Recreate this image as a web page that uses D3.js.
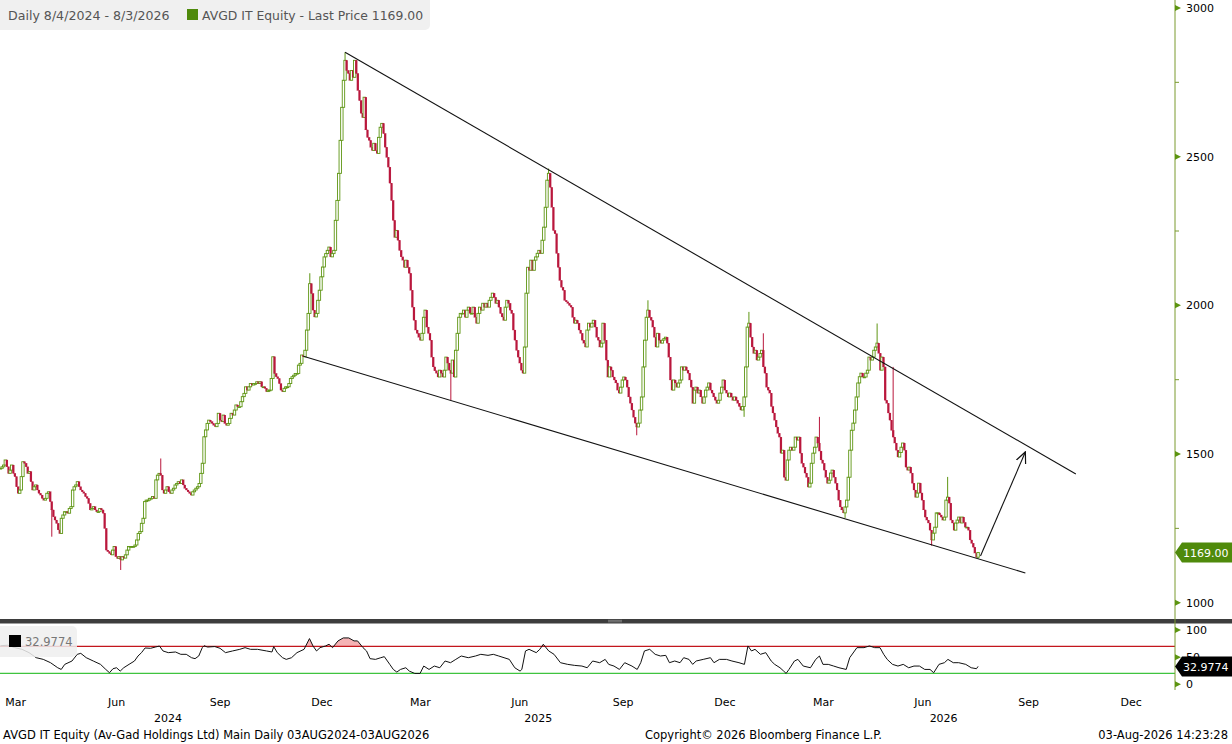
<!DOCTYPE html>
<html>
<head>
<meta charset="utf-8">
<script src="https://d3js.org/d3.v7.min.js"></script>
<style>
  body { margin: 0; background: #fff; }
  svg text { font-family: 'DejaVu Sans', sans-serif; }
</style>
</head>
<body>
<svg width="1232" height="744"></svg>
<script>
// daily closes, 1 Mar 2024 .. 3 Aug 2026 (one per trading day)
var closes = [
  1452,1457,1463,1480,1457,1435,1446,1463,1435,1424,1390,1368,1379,1424,1474,1469,1457,1435,1441,1407,
  1379,1390,1396,1379,1368,1362,1351,1345,1351,1368,1373,1340,1312,1289,1278,1267,1245,1233,1284,1295,
  1306,1306,1301,1317,1323,1379,1390,1396,1407,1390,1379,1373,1368,1357,1351,1334,1312,1317,1323,1312,
  1306,1306,1317,1312,1301,1250,1177,1172,1166,1161,1177,1189,1155,1149,1155,1144,1155,1150,1161,1177,
  1189,1189,1189,1189,1194,1211,1233,1239,1267,1284,1340,1345,1345,1351,1351,1357,1351,1413,1429,1435,
  1429,1379,1368,1379,1390,1373,1368,
  1379,1385,1396,1401,1407,1401,1413,1396,1385,1379,1373,1368,1362,1373,1379,1385,1390,1401,1435,1469,
  1558,1581,1603,1614,1609,1603,1597,1592,1603,1637,1614,1609,1631,1603,1597,1603,1620,1637,1631,1648,
  1665,1659,1659,1676,1693,1704,1726,1715,1726,1737,1732,1737,1737,1743,1737,1743,1726,1726,1721,1710,
  1715,1715,1754,1827,1771,1760,1754,1737,1715,1710,1721,1726,1726,1737,1754,1760,1765,1771,1771,1799,
  1805,1833,1827,1849,1917,1973,2073,2040,1984,1961,1973,2017,2051,2096,2129,2163,2174,2185,2196,2163,
  2174,2185,
  2286,2353,2444,2555,2666,2757,2824,2790,2780,2757,2790,2767,2824,2780,2723,2689,2646,2632,2700,2590,
  2565,2555,2532,2521,2545,2521,2511,2565,2599,2612,2578,2532,2498,2465,2411,2353,2286,2229,2252,2219,
  2185,2163,2152,2128,2152,2128,2108,2051,1994,1950,1917,1906,1893,1883,1906,1960,1984,1927,1906,1883,
  1826,1793,1780,1772,1759,1782,1772,1759,1782,1826,1806,1782,1772,1816,1759,1849,1906,1960,1973,1973,
  1984,1960,1984,1994,1973,1973,1994,1960,1940,1973,1994,1984,2007,1994,2007,1994,2017,2027,2041,2027,
  2007,2017,1994,1973,1961,1950,1994,2017,2007,1984,1973,1917,1883,1849,1826,1806,1782,1772,1860,2041,
  2128,2118,2152,2118,2152,2163,2175,2185,2175,2219,2263,2330,2421,2444,2397,2330,2252,2241,2175,2128,
  2084,2061,
  2051,2017,2012,2007,2000,1994,1960,1940,1950,1940,1917,1906,1883,1873,1860,1917,1940,1927,1940,1950,
  1927,1893,1883,1860,1873,1940,1883,1816,1759,1793,1782,1759,1749,1739,1715,1705,1725,1749,1759,1749,
  1725,1692,1671,1648,1624,1604,1591,1604,1648,1692,1793,1883,1960,1984,1960,1950,1927,1893,1860,1906,
  1883,1873,1883,1888,1893,1873,1826,1749,1715,1749,1739,1725,1739,1749,1793,1782,1793,1782,1772,1749,
  1725,1671,1715,1725,1705,1715,1692,1671,1692,1715,1725,1739,1715,1705,1692,1681,1671,1681,1705,1725,
  1749,1715,1705,1692,1705,1692,1681,1692,1681,1671,1660,1648,1660,1692,1793,1927,1940,1893,1860,1839,
  1849,1816,1826,1838,1849,1793,1772,1725,1715,1705,1660,1638,1614,1591,1570,1557,
  1503,1513,1422,1412,1480,1513,1523,1513,1523,1557,1547,1557,1503,1469,1456,1436,1422,1389,1402,1469,
  1503,1523,1557,1537,1510,1480,1469,1446,1422,1402,1412,1436,1446,1422,1402,1379,1345,1322,1312,1302,
  1322,1345,1422,1513,1580,1604,1648,1692,1739,1760,1772,1759,1759,1772,1782,1826,1816,1826,1849,1860,
  1873,1839,1782,1826,1793,1681,1671,1638,1614,1580,1557,1537,1513,1490,1505,1523,1537,1513,1456,1446,
  1456,1436,1402,1379,1355,1369,1402,1369,1345,1312,1288,1278,1268,1244,1211,1234,1254,1302,1302,1295,
  1288,1278,1288,1345,1355,1335,1278,1268,1244,1268,1278,1288,1268,1288,1270,1254,1254,1244,1211,1200,
  1187,1167,1153,1169
];
// visible long wicks [bar, price]
var wickHighs = [[100,1485],[193,2108],[215,2851],[342,2460],[404,2017],[467,1978],[476,1906],[511,1625],[547,1939],[557,1793],[591,1423]];
var wickLows = [[32,1222],[75,1110],[281,1681],[397,1563],[464,1625],[527,1285],[581,1192],[610,1148]];

// RSI [bar, value]
var rsiPoints = [
  [0,71],[4.5,72],[8.9,67.5],[13.4,64.4],[17.8,58.3],[22.3,49],[26.7,45.9],[31.2,39.8],[35.7,30.5],[37.9,27.4],
  [40.1,36.7],[44.6,42.9],[47.9,55.2],[50.1,57],[53.5,49],[57.9,42.9],[62.4,36.7],[65.7,27.4],[68,21.3],[70.2,28.7],
  [72.4,30.5],[74.7,24.3],[76.9,30.5],[80.2,36.7],[83.6,42.9],[85.8,52.1],[88,58.3],[90.2,66.9],[93.6,66.3],[96.9,68.8],
  [99.2,70.5],[101.4,61.4],[104.7,58.3],[109.2,59.5],[112.5,55.2],[115.9,55.2],[119.2,49],[121.4,47.2],[123.7,52.1],[125.9,67.5],
  [127,71],[129.2,68.6],[133.7,69.5],[137,66.3],[140.4,58.3],[144.8,61.4],[149.3,64.4],[152.6,67.5],[156,64.4],[160.4,64.4],
  [166,61.4],[169.4,59.5],[170.5,69.4],[172.7,58.3],[176,49],[178.3,45.9],[181.6,49],[185,58.3],[189.4,64.4],[192.8,84.2],
  [195,70.6],[197.2,61.4],[199.4,67.5],[202.8,70.6],[205,73.7],[207.2,67.5],[210.6,79.9],[213.9,85.4],[217.3,85.4],[220.6,79.9],
  [222.8,79.9],[226.2,67.5],[228.4,61.4],[230.6,47.2],[234,45.9],[237.3,49],[239.5,50.9],[242.9,36.7],[245.1,27.4],[247.3,22.5],
  [249.6,27.4],[252.9,30.5],[255.1,24.3],[258.5,20],[261.8,20],[264.1,33.6],[267.4,27.4],[270.7,33.6],[274.1,30.5],[277.4,42.9],
  [280.8,39.8],[284.1,45.9],[287.5,52.1],[291.9,49],[296.4,52.1],[299.7,55.2],[304.2,53.3],[307.5,55.2],[310.9,52.1],[314.2,49],
  [317.5,45.9],[320.9,30.5],[324.2,24.3],[325.3,27.4],[327.6,61.4],[329.8,64.4],[334.3,58.3],[336.5,64.4],[338.7,73.7],[342.1,61.4],
  [345.4,55.2],[349.4,39.8],[353.9,36.7],[358.3,34.8],[362.8,33.6],[366.1,30.5],[369.5,42.9],[373.9,39.8],[377.3,45.9],[379.5,36.7],
  [382.8,33.6],[386.2,27.4],[389.5,39.8],[394,33.6],[397.3,27.4],[399.5,39.8],[401.8,61.4],[405.1,64.4],[408.5,55.2],[411.8,52.1],
  [415.1,53.3],[417.4,39.8],[420.7,42.9],[424,39.8],[426.3,49],[429.6,45.9],[431.9,36.7],[434.1,42.9],[438.5,45.9],[443,49],
  [445.2,39.8],[448.6,45.9],[453,45.9],[456.4,42.9],[460.8,39.8],[464.2,36.7],[466.4,70.6],[468.6,61.4],[470.8,64.4],[474.2,55.2],
  [477.5,58.3],[480.9,42.9],[483.1,36.7],[486.4,30.5],[488.7,24.3],[490.2,20],[492,27.4],[495.4,42.9],[497.6,45.9],[500.9,33.6],
  [505.4,30.5],[508.7,45.9],[511,52.1],[513.2,36.7],[516.5,36.7],[519.9,33.6],[523.2,30.5],[527.7,27.4],[529.9,49],[534.4,67.5],
  [538.8,67.5],[542.2,70.6],[545.5,67.5],[548.8,67.5],[551.1,55.2],[553.3,45.9],[556.6,36.7],[560,33.6],[563.3,36.7],[566.7,30.5],
  [570,33.6],[573.4,33.6],[576.7,27.4],[580,27.4],[582.3,21.3],[585.6,36.7],[589,39.8],[591.2,45.9],[594.5,39.8],[597.9,39.8],
  [602.3,36.7],[605.7,30.5],[609,28.7],[610,32.98]
];

var holidays = ["2024-03-29","2024-04-01","2024-05-01","2024-08-15","2024-12-24","2024-12-25","2024-12-26","2024-12-31",
  "2025-01-01","2025-04-18","2025-04-21","2025-05-01","2025-08-15","2025-12-24","2025-12-25","2025-12-26","2025-12-31",
  "2026-01-01","2026-04-03","2026-04-06","2026-05-01","2026-12-24","2026-12-25","2026-12-31"];
var priceTicks = [1000, 1500, 2000, 2500, 3000];
var priceMinor = [1250, 1750, 2250, 2750];
var rsiTicks = [100, 50, 0];
var rsiHigh = 70, rsiLow = 20;
var showMonths = ["Mar", "Jun", "Sep", "Dec"];
var upperTrend = [[215, 2851], [671, 1433]];
var lowerTrend = [[189, 1829], [639.5, 1100]];
var arrowPts = [[611.5, 1157], [639.5, 1507]];
var lastPrice = 1169.00, lastRsi = 32.9774;

var upCol = "#5f9614", downCol = "#b9173c";

// trading calendar
var fmt = d3.timeFormat("%Y-%m-%d");
var days = [];
for (var d = new Date(2024, 2, 1); d <= new Date(2026, 11, 31); d.setDate(d.getDate() + 1)) {
  var wd = d.getDay();
  if (wd > 0 && wd < 6 && holidays.indexOf(fmt(d)) < 0) days.push(new Date(d));
}
var lastDay = days.findIndex(function(e) { return fmt(e) == "2026-08-03"; });
var off = lastDay - (closes.length - 1);

var svg = d3.select("svg");
var x = d3.scaleLinear().domain([0, 731]).range([0.5, 1172]);
var y = d3.scaleLinear().domain([1000, 3000]).range([602.7, 8]);
var yr = d3.scaleLinear().domain([0, 100]).range([684.3, 630]);
function bx(i) { return x(off + i); }

// header box
svg.append("rect").attr("x", -5).attr("y", -5).attr("width", 435).attr("height", 35).attr("rx", 5).attr("fill", "#f0f0f0");
svg.append("text").attr("x", 8).attr("y", 20).attr("font-size", 12.6).attr("fill", "#555").text("Daily 8/4/2024 - 8/3/2026");
svg.append("rect").attr("x", 187).attr("y", 9).attr("width", 11).attr("height", 11).attr("fill", "#4f8a0b");
svg.append("text").attr("x", 202).attr("y", 20).attr("font-size", 12.4).attr("fill", "#555").text("AVGD IT Equity - Last Price " + lastPrice.toFixed(2));

// candles
var bars = closes.map(function(c, i) {
  var o = i ? closes[i - 1] : c;
  return { i: i, o: o, c: c, h: Math.max(o, c), l: Math.min(o, c) };
});
wickHighs.forEach(function(w) { bars[w[0]].h = Math.max(bars[w[0]].h, w[1]); });
wickLows.forEach(function(w) { bars[w[0]].l = Math.min(bars[w[0]].l, w[1]); });

var plot = svg.append("g");
var bw = 2.4;
bars.forEach(function(b) {
  var up = b.c >= b.o;
  var col = up ? upCol : downCol;
  plot.append("line").attr("x1", bx(b.i)).attr("x2", bx(b.i))
    .attr("y1", y(b.h)).attr("y2", y(b.l)).attr("stroke", col).attr("stroke-width", 1);
  var top = y(Math.max(b.o, b.c)), bot = y(Math.min(b.o, b.c));
  plot.append("rect").attr("x", bx(b.i) - (up ? bw : 2) / 2).attr("y", top)
    .attr("width", up ? bw : 2).attr("height", Math.max(0.8, bot - top))
    .attr("fill", up ? "#fff" : col).attr("stroke", col).attr("stroke-width", up ? 0.9 : 0.2);
});

// trendlines and arrow
var tl = d3.line().x(function(p) { return bx(p[0]); }).y(function(p) { return y(p[1]); });
svg.append("defs").append("marker").attr("id", "ah").attr("viewBox", "0 0 12 12")
  .attr("refX", 11).attr("refY", 6).attr("markerWidth", 12).attr("markerHeight", 12)
  .attr("markerUnits", "userSpaceOnUse").attr("orient", "auto")
  .append("path").attr("d", "M0,1 L11,6 L0,11").attr("fill", "none").attr("stroke", "#111").attr("stroke-width", 1.2);
[upperTrend, lowerTrend].forEach(function(t) {
  svg.append("path").attr("d", tl(t)).attr("stroke", "#111").attr("stroke-width", 1.1).attr("fill", "none");
});
svg.append("path").attr("d", tl(arrowPts)).attr("stroke", "#111").attr("stroke-width", 1.1)
  .attr("fill", "none").attr("marker-end", "url(#ah)");

// panel separator
svg.append("rect").attr("x", 0).attr("y", 619).attr("width", 1232).attr("height", 4.5).attr("fill", "#3d3d3d");
[620.3, 621.8].forEach(function(v) {
  svg.append("line").attr("x1", 608).attr("x2", 622).attr("y1", v).attr("y2", v).attr("stroke", "#9a9a9a").attr("stroke-width", 0.7);
});

// RSI panel
svg.append("clipPath").attr("id", "ob").append("rect").attr("x", 0).attr("y", 600).attr("width", 1172).attr("height", yr(rsiHigh) - 600);
var rArea = d3.area().x(function(p) { return bx(p[0]); }).y0(yr(rsiHigh)).y1(function(p) { return yr(p[1]); });
svg.append("path").attr("d", rArea(rsiPoints)).attr("fill", "#f5b3b5").attr("clip-path", "url(#ob)");
svg.append("line").attr("x1", 0).attr("x2", 1175).attr("y1", yr(rsiHigh)).attr("y2", yr(rsiHigh)).attr("stroke", "#c3161c").attr("stroke-width", 1.2);
svg.append("line").attr("x1", 0).attr("x2", 1175).attr("y1", yr(rsiLow)).attr("y2", yr(rsiLow)).attr("stroke", "#3fc43f").attr("stroke-width", 1.2);
var rLine = d3.line().x(function(p) { return bx(p[0]); }).y(function(p) { return yr(p[1]); });
svg.append("path").attr("d", rLine(rsiPoints)).attr("fill", "none").attr("stroke", "#111").attr("stroke-width", 1);

// RSI legend box
svg.append("rect").attr("x", -5).attr("y", 626).attr("width", 82).attr("height", 31).attr("rx", 5).attr("fill", "#efefef").attr("opacity", 0.85);
svg.append("rect").attr("x", 9).attr("y", 635).attr("width", 12).attr("height", 12).attr("fill", "#000");
svg.append("text").attr("x", 25).attr("y", 646).attr("font-size", 11.5).attr("fill", "#777").text(lastRsi.toFixed(4));

// right axis
var axisX = 1175;
svg.append("line").attr("x1", axisX).attr("x2", axisX).attr("y1", 0).attr("y2", 690).attr("stroke", "#7a9a2e").attr("stroke-width", 1);
function tri(g, yy) {
  g.append("path").attr("d", "M" + axisX + "," + (yy - 3) + " L" + (axisX + 6) + "," + yy + " L" + axisX + "," + (yy + 3) + "Z").attr("fill", "#5c9410");
}
priceTicks.forEach(function(t) {
  tri(svg, y(t));
  svg.append("text").attr("x", 1186).attr("y", y(t) + 4).attr("font-size", 11).attr("fill", "#000").text(t);
});
priceMinor.forEach(function(t) {
  svg.append("line").attr("x1", axisX).attr("x2", axisX + 4).attr("y1", y(t)).attr("y2", y(t)).attr("stroke", "#7a9a2e");
});
rsiTicks.forEach(function(t) {
  tri(svg, yr(t));
  svg.append("text").attr("x", 1186).attr("y", yr(t) + 4).attr("font-size", 11).attr("fill", "#000").text(t);
});

// last value tags (drawn over the axis labels, as in the terminal)
function tag(yy, fill, label) {
  svg.append("path").attr("d", "M1175," + yy + " L1182," + (yy - 10) + " L1232," + (yy - 10) + " L1232," + (yy + 10) + " L1182," + (yy + 10) + "Z").attr("fill", fill);
  svg.append("text").attr("x", 1183).attr("y", yy + 4.5).attr("font-size", 11).attr("fill", "#fff").text(label);
}
tag(y(lastPrice), "#4f8a0b", lastPrice.toFixed(2));
tag(yr(lastRsi), "#000", lastRsi.toFixed(4));

// bottom time axis
var idx = days.map(function(dd, i) { return { d: dd, i: i }; });
var monthFmt = d3.timeFormat("%b");
d3.groups(idx, function(e) { return d3.timeFormat("%Y-%m")(e.d); }).forEach(function(g) {
  var name = monthFmt(g[1][0].d);
  if (showMonths.indexOf(name) < 0) return;
  var xm = x(d3.mean(g[1], function(e) { return e.i; }));
  if (xm < 0 || xm > 1172) return;
  svg.append("text").attr("x", xm).attr("y", 706).attr("text-anchor", "middle").attr("font-size", 11).attr("fill", "#000").text(name);
});
d3.groups(idx, function(e) { return e.d.getFullYear(); }).forEach(function(g) {
  var xm = x(d3.mean(g[1], function(e) { return e.i; }));
  svg.append("text").attr("x", xm).attr("y", 722).attr("text-anchor", "middle").attr("font-size", 11).attr("fill", "#000").text(g[0]);
});

// footer
svg.append("text").attr("x", 3).attr("y", 739).attr("font-size", 11.5).attr("fill", "#000").text("AVGD IT Equity (Av-Gad Holdings Ltd) Main Daily 03AUG2024-03AUG2026");
svg.append("text").attr("x", 645).attr("y", 739).attr("font-size", 11.5).attr("fill", "#000").text("Copyright\u00a9 2026 Bloomberg Finance L.P.");
svg.append("text").attr("x", 1228).attr("y", 739).attr("text-anchor", "end").attr("font-size", 11.5).attr("fill", "#000").text("03-Aug-2026 14:23:28");
</script>
</body>
</html>
